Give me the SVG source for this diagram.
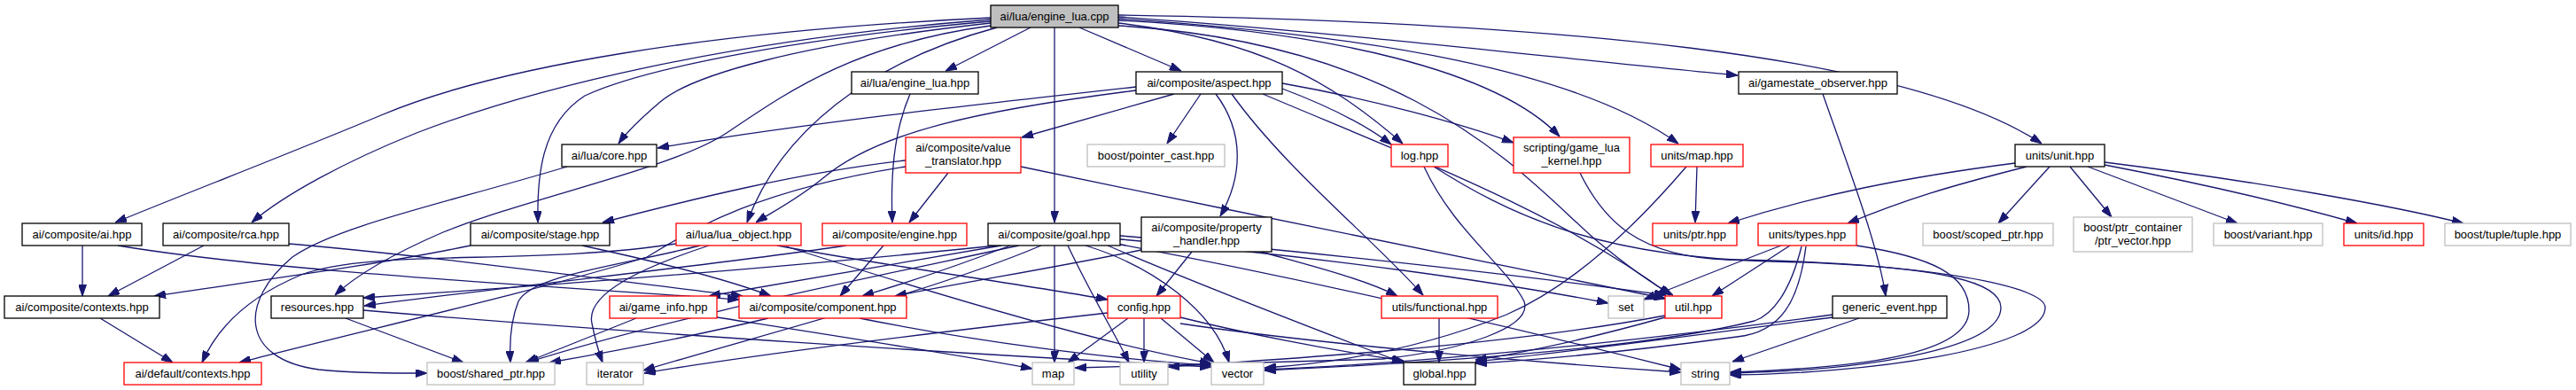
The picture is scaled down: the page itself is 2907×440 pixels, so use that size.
<svg xmlns="http://www.w3.org/2000/svg" width="2907" height="440" viewBox="0 0 2907 440">
<style>
rect{fill:#fff;stroke:#000;stroke-width:1.3}
.r rect{stroke:#ff0000}
.g rect{stroke:#bfbfbf}
.root rect{fill:#bfbfbf}
text{font-family:"Liberation Sans",Arial,sans-serif;font-size:13px;text-anchor:middle;fill:#000}
#edges path{fill:none;stroke:#191970;stroke-width:1.3;marker-end:url(#a)}
</style>
<defs>
<marker id="a" markerUnits="userSpaceOnUse" markerWidth="13" markerHeight="9" viewBox="0 0 13 9" refX="13" refY="4.5" orient="auto">
<path d="M0,0 L13,4.5 L0,9 z" fill="#191970" stroke="#191970"/>
</marker>
</defs>
<rect x="0" y="0" width="2907" height="440" style="fill:#fff;stroke:none"/>
<g id="edges">
<path d="M1118,20 C800,35 560,75 430,130 C330,172 200,222 130,251"/>
<path d="M1118,22 C820,45 600,100 470,150 C390,182 320,220 284,251"/>
<path d="M1118,24 C880,45 720,80 660,108 C610,140 606,200 607,251"/>
<path d="M1118,26 C900,50 780,85 745,115 C725,132 708,148 698,162"/>
<path d="M1118,29 C960,50 880,110 820,150 C760,190 600,222 500,262 C440,288 400,312 378,333"/>
<path d="M1125,31 C980,70 880,150 843,251"/>
<path d="M1163,31 L1067,80"/>
<path d="M1218,31 L1333,80"/>
<path d="M1190,31 L1190,251"/>
<path d="M1262,26 C1420,45 1500,90 1583,162"/>
<path d="M1262,23 C1500,35 1690,80 1760,154"/>
<path d="M1262,21 C1550,40 1780,80 1894,162"/>
<path d="M1262,19 C1500,35 1750,65 1961,85"/>
<path d="M1262,17 C1750,25 2150,60 2304,162"/>
<path d="M1262,29 C1600,50 1720,200 1800,270 C1830,295 1860,318 1888,333"/>
<path d="M1027,106 C1008,150 1005,200 1007,251"/>
<path d="M1282,98 C1100,118 900,140 742,167"/>
<path d="M1325,106 L1153,155"/>
<path d="M1282,102 C1100,125 990,150 930,200 C900,225 870,240 853,251"/>
<path d="M1355,106 L1317,162"/>
<path d="M1372,106 C1405,150 1402,200 1377,244"/>
<path d="M1447,100 C1500,120 1540,140 1570,163"/>
<path d="M1447,94 C1550,112 1650,140 1708,161"/>
<path d="M1425,106 C1600,180 1760,240 1885,333"/>
<path d="M1390,106 C1450,190 1550,270 1606,333"/>
<path d="M1070,195 L1026,251"/>
<path d="M1022,181 C900,195 780,225 680,251"/>
<path d="M1022,188 C850,215 780,260 730,290 C600,330 400,375 270,409"/>
<path d="M1152,188 C1400,240 1700,300 1880,337"/>
<path d="M640,188 C500,230 380,255 330,290 C270,340 270,405 360,417 C400,421 440,421 482,421"/>
<path d="M763,275 C600,300 420,280 340,310 C280,335 245,370 228,409"/>
<path d="M113,359 L195,409"/>
<path d="M93,277 L93,334"/>
<path d="M230,277 L122,334"/>
<path d="M531,277 C420,300 280,318 174,334"/>
<path d="M133,277 C300,305 600,322 834,338"/>
<path d="M326,275 C500,290 700,318 838,334"/>
<path d="M657,277 C740,295 820,315 870,334"/>
<path d="M997,277 L948,334"/>
<path d="M1140,277 C1080,300 1020,320 973,334"/>
<path d="M1288,282 C1200,300 1080,320 1010,334"/>
<path d="M1345,284 L1305,334"/>
<path d="M1423,284 C1480,300 1540,315 1577,334"/>
<path d="M390,359 L523,409"/>
<path d="M1125,277 C900,300 650,320 410,336"/>
<path d="M955,277 C800,300 600,320 411,345"/>
<path d="M790,277 C700,300 600,310 585,340 C575,365 575,390 576,409"/>
<path d="M1150,277 C950,320 750,360 595,409"/>
<path d="M718,359 L593,409"/>
<path d="M867,359 C780,380 700,395 620,409"/>
<path d="M1175,277 C1050,330 850,380 726,418"/>
<path d="M1250,353 C1100,370 850,400 727,421"/>
<path d="M800,277 C730,300 660,330 668,365 C672,385 676,398 680,409"/>
<path d="M1130,277 C1000,300 880,320 800,334"/>
<path d="M1190,277 L1190,409"/>
<path d="M1273,359 L1205,409"/>
<path d="M809,358 C950,380 1080,400 1165,416"/>
<path d="M1607,188 C1640,260 1700,300 1720,340 C1730,370 1650,395 1560,405 C1400,410 1300,413 1213,415"/>
<path d="M1205,277 C1230,330 1260,380 1274,409"/>
<path d="M1291,359 L1291,409"/>
<path d="M1879,356 C1700,390 1450,405 1318,414"/>
<path d="M1225,277 C1300,300 1370,350 1387,409"/>
<path d="M1310,359 L1370,409"/>
<path d="M970,359 C1100,385 1250,405 1367,412"/>
<path d="M2033,278 C2020,330 2000,355 1980,362 C1850,395 1600,410 1427,418"/>
<path d="M2038,278 C2030,340 2010,375 1960,380 C1850,395 1750,405 1665,410"/>
<path d="M2020,277 L1932,334"/>
<path d="M2010,277 C1950,300 1900,320 1855,338"/>
<path d="M2095,277 C2180,290 2222,310 2222,350 C2222,400 2100,415 1952,420"/>
<path d="M1618,188 C1700,240 1800,290 2000,295 C2200,300 2258,320 2258,347 C2258,395 2100,418 1952,421"/>
<path d="M1783,195 C1810,250 1850,290 1950,293 C2150,295 2308,320 2308,347 C2308,395 2100,422 1952,423"/>
<path d="M2274,184 C2150,200 2050,220 1950,252"/>
<path d="M2287,188 C2200,210 2150,225 2085,252"/>
<path d="M2313,188 L2255,252"/>
<path d="M2336,188 L2383,245"/>
<path d="M2356,188 L2525,252"/>
<path d="M2375,186 C2500,210 2600,235 2660,252"/>
<path d="M2375,183 C2550,205 2700,232 2780,252"/>
<path d="M1915,188 L1913,251"/>
<path d="M1903,188 C1850,250 1780,320 1700,355 C1600,395 1500,410 1427,415"/>
<path d="M2057,106 C2090,200 2120,280 2128,334"/>
<path d="M2098,359 L1955,408"/>
<path d="M2068,358 C1900,380 1750,400 1665,408"/>
<path d="M2068,355 C1850,385 1600,410 1427,417"/>
<path d="M1624,359 L1624,409"/>
<path d="M1879,358 C1800,380 1720,398 1665,406"/>
<path d="M1332,358 C1400,375 1500,395 1584,407"/>
<path d="M1250,277 C1350,320 1480,370 1585,410"/>
<path d="M1260,275 C1500,320 1750,380 1897,417"/>
<path d="M1332,365 C1500,390 1750,410 1897,420"/>
<path d="M1264,270 C1500,290 1700,320 1815,342"/>
<path d="M1264,266 C1500,285 1750,315 1880,333"/>
<path d="M877,277 C1000,300 1150,320 1250,338"/>
<path d="M887,278 C1050,330 1250,390 1367,410"/>
<path d="M410,350 C700,375 1100,400 1367,414"/>
</g>
<g id="n0" class="root"><rect x="1118" y="6" width="144" height="25"/><text x="1190" y="23">ai/lua/engine_lua.cpp</text></g>
<g id="n1"><rect x="961" y="81" width="143" height="25"/><text x="1032.5" y="98">ai/lua/engine_lua.hpp</text></g>
<g id="n2"><rect x="1282" y="81" width="165" height="25"/><text x="1364.5" y="98">ai/composite/aspect.hpp</text></g>
<g id="n3"><rect x="1962" y="81" width="179" height="25"/><text x="2051.5" y="98">ai/gamestate_observer.hpp</text></g>
<g id="n4"><rect x="634" y="163" width="107" height="25"/><text x="687.5" y="180">ai/lua/core.hpp</text></g>
<g id="n5" class="r"><rect x="1022" y="155" width="130" height="40"/><text x="1087" y="171">ai/composite/value</text><text x="1087" y="186">_translator.hpp</text></g>
<g id="n6" class="g"><rect x="1227" y="163" width="155" height="25"/><text x="1304.5" y="180">boost/pointer_cast.hpp</text></g>
<g id="n7" class="r"><rect x="1570" y="163" width="64" height="25"/><text x="1602" y="180">log.hpp</text></g>
<g id="n8" class="r"><rect x="1708" y="155" width="131" height="40"/><text x="1773.5" y="171">scripting/game_lua</text><text x="1773.5" y="186">_kernel.hpp</text></g>
<g id="n9" class="r"><rect x="1863" y="163" width="104" height="25"/><text x="1915" y="180">units/map.hpp</text></g>
<g id="n10"><rect x="2274" y="163" width="101" height="25"/><text x="2324.5" y="180">units/unit.hpp</text></g>
<g id="n11"><rect x="25" y="252" width="135" height="25"/><text x="92.5" y="269">ai/composite/ai.hpp</text></g>
<g id="n12"><rect x="184" y="252" width="142" height="25"/><text x="255" y="269">ai/composite/rca.hpp</text></g>
<g id="n13"><rect x="531" y="252" width="157" height="25"/><text x="609.5" y="269">ai/composite/stage.hpp</text></g>
<g id="n14" class="r"><rect x="763" y="252" width="141" height="25"/><text x="833.5" y="269">ai/lua/lua_object.hpp</text></g>
<g id="n15" class="r"><rect x="928" y="252" width="163" height="25"/><text x="1009.5" y="269">ai/composite/engine.hpp</text></g>
<g id="n16"><rect x="1115" y="252" width="149" height="25"/><text x="1189.5" y="269">ai/composite/goal.hpp</text></g>
<g id="n17"><rect x="1288" y="245" width="147" height="39"/><text x="1361.5" y="261">ai/composite/property</text><text x="1361.5" y="276">_handler.hpp</text></g>
<g id="n18" class="r"><rect x="1865" y="252" width="95" height="25"/><text x="1912.5" y="269">units/ptr.hpp</text></g>
<g id="n19" class="r"><rect x="1984" y="252" width="111" height="25"/><text x="2039.5" y="269">units/types.hpp</text></g>
<g id="n20" class="g"><rect x="2170" y="252" width="147" height="25"/><text x="2243.5" y="269">boost/scoped_ptr.hpp</text></g>
<g id="n21" class="g"><rect x="2340" y="245" width="134" height="39"/><text x="2407" y="261">boost/ptr_container</text><text x="2407" y="276">/ptr_vector.hpp</text></g>
<g id="n22" class="g"><rect x="2498" y="252" width="123" height="25"/><text x="2559.5" y="269">boost/variant.hpp</text></g>
<g id="n23" class="r"><rect x="2645" y="252" width="90" height="25"/><text x="2690" y="269">units/id.hpp</text></g>
<g id="n24" class="g"><rect x="2759" y="252" width="142" height="25"/><text x="2830" y="269">boost/tuple/tuple.hpp</text></g>
<g id="n25"><rect x="5" y="334" width="175" height="25"/><text x="92.5" y="351">ai/composite/contexts.hpp</text></g>
<g id="n26"><rect x="306" y="334" width="104" height="25"/><text x="358" y="351">resources.hpp</text></g>
<g id="n27" class="r"><rect x="688" y="334" width="121" height="25"/><text x="748.5" y="351">ai/game_info.hpp</text></g>
<g id="n28" class="r"><rect x="834" y="334" width="189" height="25"/><text x="928.5" y="351">ai/composite/component.hpp</text></g>
<g id="n29" class="r"><rect x="1250" y="334" width="82" height="25"/><text x="1291" y="351">config.hpp</text></g>
<g id="n30" class="r"><rect x="1559" y="334" width="131" height="25"/><text x="1624.5" y="351">utils/functional.hpp</text></g>
<g id="n31" class="g"><rect x="1815" y="334" width="40" height="25"/><text x="1835" y="351">set</text></g>
<g id="n32" class="r"><rect x="1879" y="334" width="64" height="25"/><text x="1911" y="351">util.hpp</text></g>
<g id="n33"><rect x="2068" y="334" width="129" height="25"/><text x="2132.5" y="351">generic_event.hpp</text></g>
<g id="n34" class="r"><rect x="140" y="409" width="155" height="25"/><text x="217.5" y="426">ai/default/contexts.hpp</text></g>
<g id="n35" class="g"><rect x="482" y="409" width="144" height="25"/><text x="554" y="426">boost/shared_ptr.hpp</text></g>
<g id="n36" class="g"><rect x="662" y="409" width="64" height="25"/><text x="694" y="426">iterator</text></g>
<g id="n37" class="g"><rect x="1165" y="409" width="47" height="25"/><text x="1188.5" y="426">map</text></g>
<g id="n38" class="g"><rect x="1264" y="409" width="54" height="25"/><text x="1291" y="426">utility</text></g>
<g id="n39" class="g"><rect x="1367" y="409" width="59" height="25"/><text x="1396.5" y="426">vector</text></g>
<g id="n40"><rect x="1584" y="409" width="81" height="25"/><text x="1624.5" y="426">global.hpp</text></g>
<g id="n41" class="g"><rect x="1897" y="409" width="55" height="25"/><text x="1924.5" y="426">string</text></g>
</svg>
